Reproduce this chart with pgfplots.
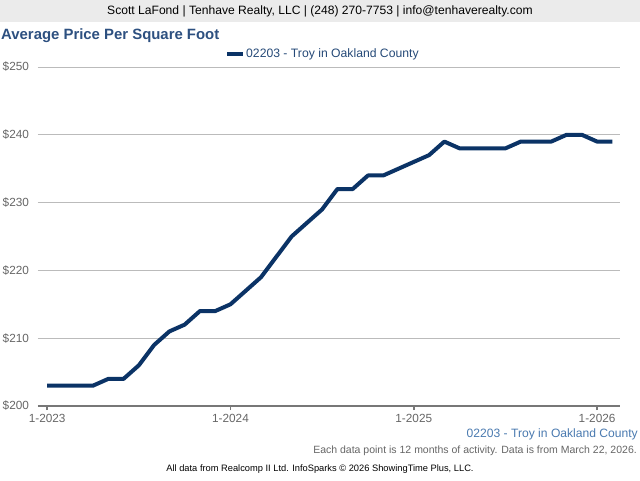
\documentclass[border=0pt]{standalone}
\usepackage{pgfplots}
\pgfplotsset{compat=1.18}
\usepackage{fontspec}
\setmainfont{Liberation Sans}
\definecolor{headbg}{HTML}{EBEBEB}
\definecolor{titleblue}{HTML}{2D5080}
\definecolor{legblue}{HTML}{264A78}
\definecolor{linenavy}{HTML}{0B3366}
\definecolor{seriesblue}{HTML}{4A7AB0}
\definecolor{ticklab}{HTML}{666666}
\definecolor{gridc}{HTML}{BBBBBB}
\definecolor{axisc}{HTML}{777777}
\begin{document}
\begin{tikzpicture}[x=1pt,y=1pt]
\useasboundingbox (0,0) rectangle (640,480);
\fill[white] (0,0) rectangle (640,480);
\fill[headbg] (0,458) rectangle (640,480);
\node[font=\fontsize{12.1}{14}\selectfont,text=black] at (320,469) {Scott LaFond | Tenhave Realty, LLC | (248) 270-7753 | info@tenhaverealty.com};
\node[anchor=west,font=\fontsize{14.9}{17}\selectfont\bfseries,text=titleblue,inner sep=0pt] at (1,444) {Average Price Per Square Foot};
\draw[linenavy,line width=4pt] (227,426) -- (243,426);
\node[anchor=west,font=\fontsize{12.2}{14}\selectfont,text=legblue,inner sep=0pt] at (246,426) {02203 - Troy in Oakland County};
\begin{axis}[
  at={(38pt,74pt)}, anchor=south west,
  scale only axis, width=582pt, height=339pt,
  xmin=-0.6, xmax=37.5, ymin=200, ymax=250,
  ytick={200,210,220,230,240,250},
  yticklabels={\$200,\$210,\$220,\$230,\$240,\$250},
  xtick={0,12,24,36},
  xticklabels={1-2023,1-2024,1-2025,1-2026},
  ymajorgrids, grid style={gridc,line width=0.8pt},
  axis x line*=bottom, axis y line*=left,
  y axis line style={draw=none},
  x axis line style={axisc,line width=2pt,-},
  xtick style={axisc,line width=1.5pt},
  tick align=outside, major tick length=4pt,
  ytick style={draw=none},
  tick label style={font=\fontsize{11.8}{14}\selectfont,text=ticklab},
  /pgf/number format/assume math mode=true,
  yticklabel style={xshift=-1.5pt},
  xticklabel style={yshift=-1pt},
  clip=false,
]
\addplot[linenavy,line width=4pt,line join=round] coordinates {
(0,203)(1,203)(2,203)(3,203)(4,204)(5,204)(6,206)(7,209)(8,211)(9,212)
(10,214)(11,214)(12,215)(13,217)(14,219)(15,222)(16,225)(17,227)(18,229)(19,232)
(20,232)(21,234)(22,234)(23,235)(24,236)(25,237)(26,239)(27,238)(28,238)(29,238)
(30,238)(31,239)(32,239)(33,239)(34,240)(35,240)(36,239)(37,239)
};
\end{axis}
\node[anchor=east,font=\fontsize{12.1}{14}\selectfont,text=seriesblue,inner sep=0pt] at (638,46) {02203 - Troy in Oakland County};
\node[anchor=east,font=\fontsize{10.5}{12}\selectfont,text=ticklab,inner sep=0pt] at (637,29) {Each data point is 12 months of activity. Data is from March 22, 2026.};
\node[font=\fontsize{9.3}{11}\selectfont,text=black,inner sep=0pt] at (320,11) {All data from Realcomp II Ltd. InfoSparks © 2026 ShowingTime Plus, LLC.};
\end{tikzpicture}
\end{document}
